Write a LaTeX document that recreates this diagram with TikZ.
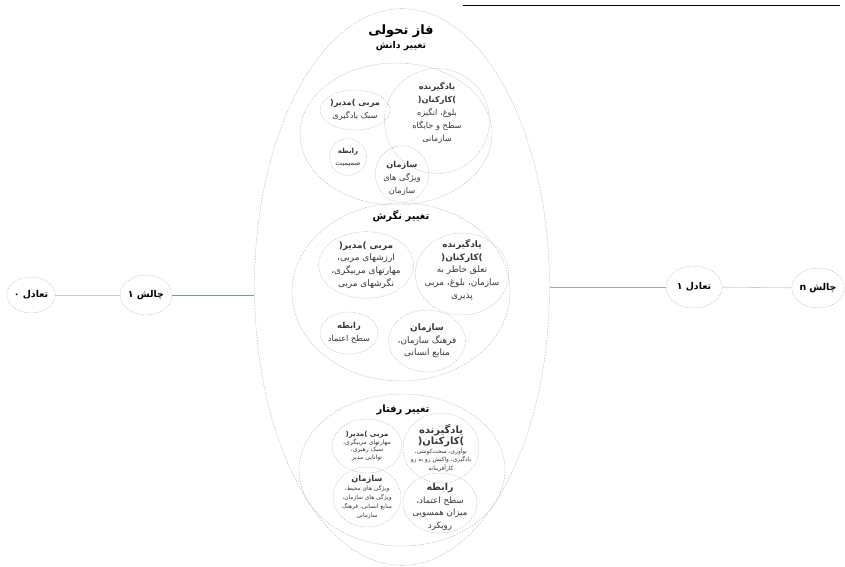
\documentclass[tikz,border=0pt]{standalone}
\usepackage{fontspec}
\newfontfamily\fa[Script=Arabic]{DejaVu Sans}
\newfontfamily\lat{DejaVu Sans}
\TeXXeTstate=1
\usetikzlibrary{shapes.geometric,positioning}
\definecolor{rim}{RGB}{190,190,190}
\definecolor{ink}{RGB}{55,55,55}
\definecolor{sage}{RGB}{110,160,150}
% parenthesised words, as printed
\newcommand\pword[1]{\mbox{\mbox{\lat )}#1\mbox{\lat (}}}
\newcommand\pinner[1]{\mbox{\mbox{)}\mbox{#1}\mbox{(}}}
\tikzset{
  phase/.style={ellipse,draw=rim,dash pattern=on 1.5pt off 1pt,line width=0.4pt,inner sep=0pt},
  stage/.style={ellipse,draw=rim,dash pattern=on 1.5pt off 1pt,line width=0.4pt,inner sep=0pt},
  bubble/.style={ellipse,draw=rim,dash pattern=on 1.2pt off 1pt,line width=0.4pt,inner sep=0pt},
  tag/.style 2 args={align=center,text=ink,inner sep=0pt,font=\fa\fontsize{#1}{#2}\selectfont},
  head/.style={align=center,text=black,inner sep=0pt,font=\fa\fontsize{#1}{12}\selectfont\bfseries},
  head/.default=8.5,
  state/.style={ellipse,draw=rim,dash pattern=on 1.2pt off 1pt,line width=0.4pt,inner sep=0pt,
    font=\fa\fontsize{8}{10}\selectfont\bfseries},
  flow/.style={draw=#1,line width=0.5pt},
  flow/.default=black!20,
}
\begin{document}
\begin{tikzpicture}[x=0.3mm,y=-0.3mm]
  \useasboundingbox (0,0) rectangle (845,567);
  \draw[black,line width=0.8pt] (463,5) -- (840,5);

  \node[phase,minimum width=88.5mm,minimum height=167mm] (phase) at (402,287) {};
  \node[head=11] (head) at (401,31) {\beginR فاز تحولی\endR};
  \node[head=8] (know-t) at (401,46) {\beginR تغییر دانش\endR};

  % knowledge
  \node[stage,minimum width=57.6mm,minimum height=42.6mm] (know) at (396,134) {};
  \node[bubble,minimum width=31.5mm,minimum height=31.5mm,
    label={[tag={7}{11},yshift=2.4mm]center:\textbf{یادگیرنده}\\\textbf{\pword{کارکنان}}\\\beginR بلوغ، انگیزه\endR\\\beginR سطح و جایگاه\endR\\سازمانی}] (learn1) at (437,121) {};
  \node[bubble,minimum width=21mm,minimum height=12mm,
    label={[tag={7}{11}]center:\textbf{\beginR مربی \pinner{مدیر}\endR}\\\beginR سبک یادگیری\endR}] (coach1) at (355,110) {};
  \node[bubble,minimum width=11mm,minimum height=11mm,
    label={[tag={6}{10}]center:\textbf{رابطه}\\صمیمیت}] (rel1) at (348,157) {};
  \node[bubble,minimum width=16mm,minimum height=17mm,
    label={[tag={7}{11},yshift=-1.2mm]center:\textbf{سازمان}\\\beginR ویژگی های\endR\\سازمان}] (org1) at (402,174) {};

  % attitude
  \node[stage,minimum width=65.4mm,minimum height=53.4mm] (attit) at (401,292) {};
  \node[head] (attit-t) at (401,216) {\beginR تغییر نگرش\endR};
  \node[bubble,minimum width=28.5mm,minimum height=20mm,
    label={[tag={7.6}{10.8}]center:\textbf{\beginR مربی \pinner{مدیر}\endR}\\\beginR ارزشهای مربی،\endR\\\beginR مهارتهای مربیگری،\endR\\\beginR نگرشهای مربی\endR}] (coach2) at (366,265) {};
  \node[bubble,minimum width=28mm,minimum height=24.6mm,
    label={[tag={7.6}{10.8},yshift=1.2mm]center:\textbf{یادگیرنده}\\\textbf{\pword{کارکنان}}\\\beginR تعلق خاطر به\endR\\\beginR سازمان، بلوغ، مربی\endR\\پذیری}] (learn2) at (462,274) {};
  \node[bubble,minimum width=17.4mm,minimum height=12.6mm,
    label={[tag={7}{11}]center:\textbf{رابطه}\\\beginR سطح اعتماد\endR}] (rel2) at (349,333) {};
  \node[bubble,minimum width=23mm,minimum height=18.6mm,
    label={[tag={7.6}{10.8}]center:\textbf{سازمان}\\\beginR فرهنگ سازمان،\endR\\\beginR منابع انسانی\endR}] (org2) at (427,341) {};

  % behaviour
  \node[stage,minimum width=61.8mm,minimum height=45.6mm] (behav) at (402,470) {};
  \node[head] (behav-t) at (403,410) {\beginR تغییر رفتار\endR};
  \node[bubble,minimum width=21mm,minimum height=16.2mm,
    label={[tag={5.2}{6.6}]center:{\fontsize{6}{7}\selectfont\textbf{\beginR مربی \pinner{مدیر}\endR}}\\\beginR مهارتهای مربیگری،\endR\\\beginR سبک رهبری،\endR\\\beginR توانایی مدیر\endR}] (coach3) at (367,446) {};
  \node[bubble,minimum width=22.8mm,minimum height=21mm,
    label={[tag={5}{7.2}]center:{\fontsize{8.5}{10}\selectfont\textbf{یادگیرنده}}\\{\fontsize{8.5}{10}\selectfont\textbf{\pword{کارکنان}}}\\\beginR نوآوری، سخت‌کوشی،\endR\\\beginR یادگیری، واکنش رو به رو\endR\\کارآفرینانه}] (learn3) at (441,448) {};
  \node[bubble,minimum width=20.4mm,minimum height=18mm,
    label={[tag={5}{7.6}]center:{\fontsize{7}{8}\selectfont\textbf{سازمان}}\\\beginR ویژگی های محیط،\endR\\\beginR ویژگی های سازمان،\endR\\\beginR منابع انسانی، فرهنگ\endR\\سازمانی}] (org3) at (367,497) {};
  \node[bubble,minimum width=22.2mm,minimum height=18mm,
    label={[tag={7.4}{11},yshift=-1.2mm]center:{\fontsize{8}{10}\selectfont\textbf{رابطه}}\\\beginR سطح اعتماد،\endR\\\beginR میزان همسویی\endR\\رویکرد}] (rel3) at (440,503) {};

  % equilibrium and challenge
  \node[state,minimum width=13.8mm,minimum height=10.8mm] (eq0) at (31,295) {\beginR تعادل ۰\endR};
  \node[state,minimum width=15.6mm,minimum height=12mm] (ch1) at (146,295) {\beginR چالش ۱\endR};
  \node[state,minimum width=16.8mm,minimum height=12.6mm] (eq1) at (694,287) {\beginR تعادل ۱\endR};
  \node[state,minimum width=13.8mm,minimum height=12mm] (chn) at (818,288) {\beginR چالش n\endR};

  \draw[flow] (eq0) -- (ch1);
  \draw[flow=sage,line width=0.7pt] (ch1.east) -- (ch1.east -| phase.west);
  \draw[flow=black!35] (phase.east |- eq1.west) -- (eq1.west);
  \draw[flow] (eq1) -- (chn);
\end{tikzpicture}
\end{document}
